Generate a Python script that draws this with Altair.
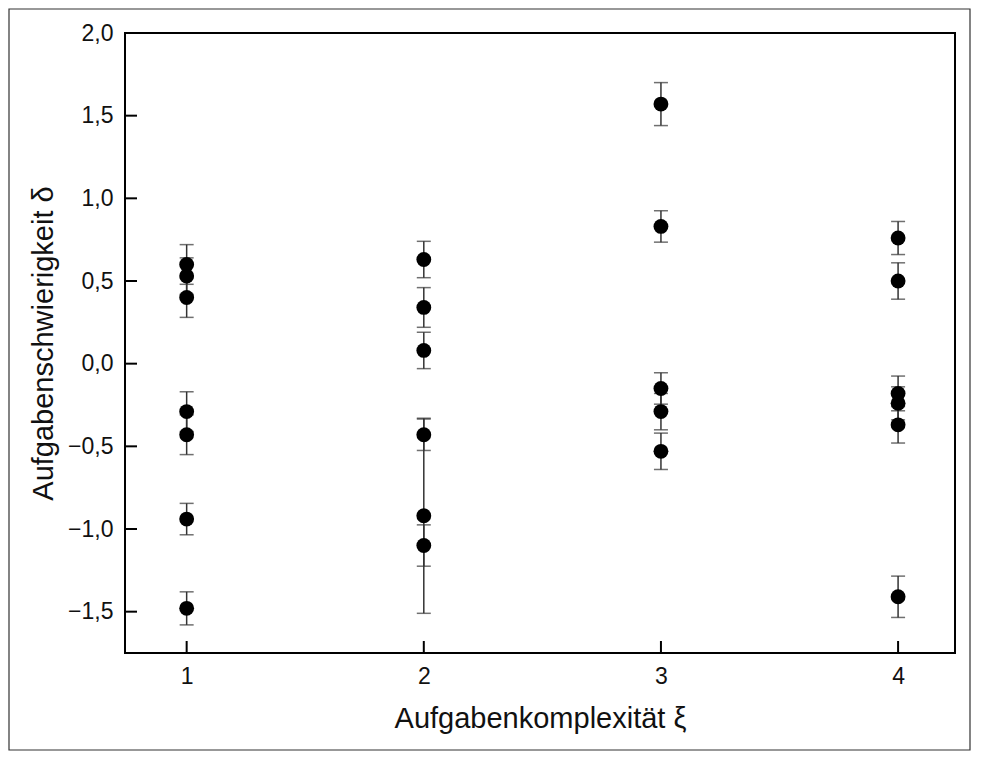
import altair as alt
import pandas as pd

# Data
complexity = [1, 1, 1, 1, 1, 1, 1,
              2, 2, 2, 2, 2, 2,
              3, 3, 3, 3, 3,
              4, 4, 4, 4, 4, 4]
difficulty = [0.60, 0.53, 0.40, -0.29, -0.43, -0.94, -1.48,
              0.63, 0.34, 0.08, -0.43, -0.92, -1.10,
              1.57, 0.83, -0.15, -0.29, -0.53,
              0.76, 0.50, -0.18, -0.24, -0.37, -1.41]
error = [0.12, 0.11, 0.12, 0.12, 0.12, 0.095, 0.10,
         0.11, 0.12, 0.11, 0.095, 0.59, 0.125,
         0.13, 0.095, 0.095, 0.11, 0.11,
         0.10, 0.11, 0.105, 0.10, 0.11, 0.125]

y_ticks = [-1.5, -1.0, -0.5, 0.0, 0.5, 1.0, 1.5, 2.0]
x_ticks = [1, 2, 3, 4]

df = pd.DataFrame({"x": complexity, "y": difficulty, "e": error})
df["lo"] = df["y"] - df["e"]
df["hi"] = df["y"] + df["e"]

FONT = "Liberation Sans"
W, H = 830, 620

xscale = alt.Scale(domain=[0.74, 4.24], nice=False, zero=False)
yscale = alt.Scale(domain=[-1.75, 2.0], nice=False, zero=False)

common = dict(domain=False, ticks=False, grid=False, labelFont=FONT, titleFont=FONT,
              titleFontWeight="normal", labelColor="#111111", titleColor="#111111",
              labelFontSize=23, titleFontSize=29)
xaxis = alt.Axis(values=x_ticks, title="Aufgabenkomplexität ξ", format="d",
                 labelPadding=12, titlePadding=16, **common)
yaxis = alt.Axis(values=y_ticks, title="Aufgabenschwierigkeit δ",
                 labelPadding=12, titleX=-67,
                 labelExpr="replace(format(datum.value, '.1f'), '.', ',')", **common)

base = alt.Chart(df)

bars = base.mark_rule(color="#333333", strokeWidth=1.5).encode(
    x=alt.X("x:Q", scale=xscale, axis=xaxis),
    y=alt.Y("lo:Q", scale=yscale, axis=yaxis),
    y2="hi:Q",
)
caps_hi = base.mark_tick(color="#333333", orient="horizontal", size=14, thickness=1.5).encode(
    x=alt.X("x:Q", scale=xscale),
    y=alt.Y("hi:Q", scale=yscale),
)
caps_lo = base.mark_tick(color="#333333", orient="horizontal", size=14, thickness=1.5).encode(
    x=alt.X("x:Q", scale=xscale),
    y=alt.Y("lo:Q", scale=yscale),
)
points = base.mark_point(filled=True, shape="circle", size=220, color="black", opacity=1).encode(
    x=alt.X("x:Q", scale=xscale),
    y=alt.Y("y:Q", scale=yscale),
)

ydf = pd.DataFrame({"v": y_ticks[:-1]})
xdf = pd.DataFrame({"v": x_ticks})
ytick_marks = alt.Chart(ydf).mark_rule(color="black", strokeWidth=2).encode(
    y=alt.Y("v:Q", scale=yscale),
    x=alt.value(0), x2=alt.value(12),
)
xtick_marks = alt.Chart(xdf).mark_rule(color="black", strokeWidth=2).encode(
    x=alt.X("v:Q", scale=xscale),
    y=alt.value(H), y2=alt.value(H - 12),
)

frame = alt.Chart(pd.DataFrame({"a": [0]})).mark_rect(
    fill=None, stroke="#333333", strokeWidth=1.2
).encode(
    x=alt.value(-116), x2=alt.value(845),
    y=alt.value(-24), y2=alt.value(717),
)

chart = alt.layer(frame, bars, caps_hi, caps_lo, points, ytick_marks, xtick_marks).properties(
    width=W, height=H,
    autosize=alt.AutoSizeParams(type="none"),
    padding={"left": 117, "top": 25, "right": 16, "bottom": 98},
    background="white",
).configure_view(
    stroke="black", strokeWidth=2
)

chart.save("out.html", embed_options={"renderer": "svg", "actions": False})
